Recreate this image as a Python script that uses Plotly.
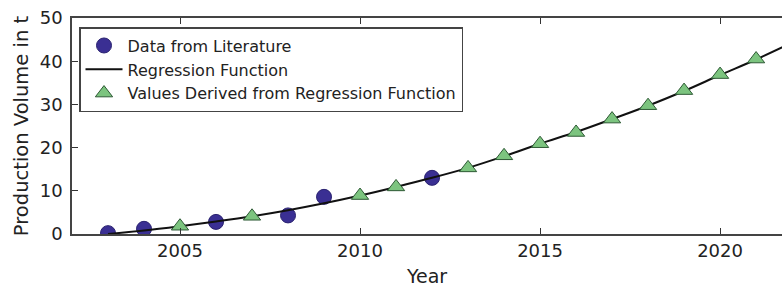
import plotly.graph_objects as go

# Data from literature
lit_years = [2003, 2004, 2006, 2008, 2009, 2012]
lit_values = [0.2, 1.2, 2.8, 4.3, 8.6, 13.0]

# Regression function (line)
reg_years = [2003, 2004, 2005, 2006, 2007, 2008, 2009, 2010, 2011, 2012, 2013,
             2014, 2015, 2016, 2017, 2018, 2019, 2020, 2021, 2022]
reg_values = [0.0, 0.8, 1.8, 2.9, 4.1, 5.5, 7.1, 8.9, 10.9, 13.0, 15.3,
              18.0, 20.9, 23.6, 26.6, 29.7, 33.1, 36.8, 40.4, 44.3]

# Values derived from regression function
der_years = [2005, 2007, 2010, 2011, 2013, 2014, 2015, 2016, 2017, 2018, 2019, 2020, 2021]
der_values = [1.8, 4.1, 8.9, 10.9, 15.3, 18.1, 20.9, 23.5, 26.6, 29.7, 33.2, 36.9, 40.5]

x_ticks = [2005, 2010, 2015, 2020]
y_ticks = [0, 10, 20, 30, 40, 50]

FONT = "DejaVu Sans"

fig = go.Figure()
fig.add_trace(go.Scatter(
    x=lit_years, y=lit_values, mode="markers", name="Data from Literature",
    legendgroup="a",
    marker=dict(symbol="circle", size=15, color="#3a2f93",
                line=dict(color="#2a2270", width=1)),
))
fig.add_trace(go.Scatter(
    x=reg_years, y=reg_values, mode="lines", name="Regression Function",
    legendgroup="b",
    line=dict(color="#111111", width=2), line_shape="spline",
))
fig.add_trace(go.Scatter(
    x=der_years, y=der_values, mode="markers", name="Values Derived from Regression Function",
    legendgroup="c",
    marker=dict(symbol="triangle-up", size=15, color="#7cc47f",
                line=dict(color="#2e5a35", width=1)),
))

fig.update_layout(
    width=782, height=287,
    margin=dict(l=72, r=0, t=18, b=53),
    paper_bgcolor="white", plot_bgcolor="white",
    font=dict(family=FONT, color="#222222"),
    showlegend=True,
    legend=dict(
        x=0.00986, y=0.958, xanchor="left", yanchor="top",
        bgcolor="white", bordercolor="#444444", borderwidth=1.5,
        font=dict(family=FONT, size=16, color="#222222"),
        tracegroupgap=0, itemwidth=37,
    ),
    xaxis=dict(
        range=[2002, 2021.72], tickvals=x_ticks, automargin=False,
        ticks="inside", ticklen=6, tickcolor="#333333",
        showline=True, linecolor="#444444", linewidth=1.5, mirror="allticks",
        showgrid=False, zeroline=False, ticklabeloverflow="allow",
        tickfont=dict(family=FONT, size=18, color="#222222"),
        title=dict(text="Year", font=dict(family=FONT, size=19, color="#222222"), standoff=11),
    ),
    yaxis=dict(
        range=[0, 50], tickvals=y_ticks, automargin=False,
        ticks="inside", ticklen=6, tickcolor="#333333",
        showline=True, linecolor="#444444", linewidth=1.5, mirror=False,
        showgrid=False, zeroline=False, ticklabeloverflow="allow",
        ticklabelstandoff=4,
        tickfont=dict(family=FONT, size=18, color="#222222"),
        title=dict(text="Production Volume in t", font=dict(family=FONT, size=19.5, color="#222222"), standoff=6),
    ),
)

fig.write_html("out.html", config={"displayModeBar": False},
               post_script="document.body.style.margin='0';")
